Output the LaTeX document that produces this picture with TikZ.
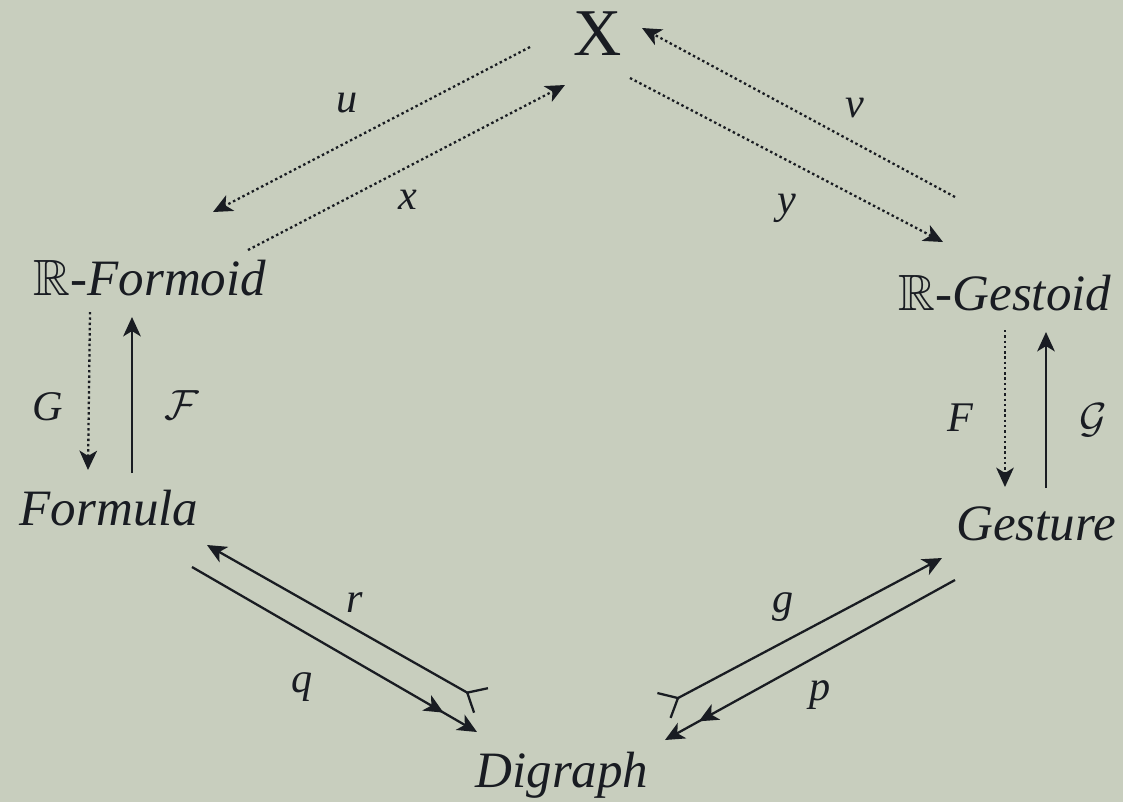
\documentclass[tikz,border=0pt]{standalone}
\usepackage{amssymb}
\usepackage{fontspec}
\setmainfont{Liberation Serif}
\usetikzlibrary{arrows.meta}
\definecolor{paper}{RGB}{200,206,190}
\definecolor{ink}{RGB}{25,28,34}

\begin{document}
\begin{tikzpicture}[
  x=0.01cm, y=-0.01cm,
  obj/.style={inner sep=0pt, anchor=base, text=ink, font=\fontsize{14.5}{17}\selectfont\itshape},
  lab/.style={inner sep=0pt, text=ink, font=\fontsize{12}{14}\selectfont\itshape},
  ar/.style={draw=ink, line width=0.65pt, -{Stealth[length=5.5pt,width=5pt,inset=1.5pt]}},
  dt/.style={ar, dash pattern=on 0.7pt off 0.8pt},
  epi/.style={ar, -{Stealth[length=5.5pt,width=5pt,inset=1.5pt,sep=5.5pt]Stealth[length=5.5pt,width=5pt,inset=1.5pt]}},
  mono/.style={ar, {Straight Barb[reversed,length=4.5pt,width=8pt]}-{Stealth[length=5.5pt,width=5pt,inset=1.5pt]}}
]
\fill[paper] (0,0) rectangle (1123,802);
\node[obj, font=\fontsize{19}{22}\selectfont] (X) at (598,55) {X};
\node[obj] (Rfor) at (150,295) {$\mathbb{R}$\textup{-}Formoid};
\node[obj] (Rges) at (1005,310) {$\mathbb{R}$\textup{-}Gestoid};
\node[obj] (form) at (109,525) {Formula};
\node[obj] (gest) at (1036,540) {Gesture};
\node[obj] (digr) at (562,787) {Digraph};
\draw[dt] ([shift={(-68,-8)}]X.base) -- ([shift={(63,-83)}]Rfor.base);
\draw[dt] ([shift={(98,-45)}]Rfor.base) -- ([shift={(-33,30)}]X.base);
\draw[dt] ([shift={(-50,-113)}]Rges.base) -- ([shift={(44,-27)}]X.base);
\draw[dt] ([shift={(32,23)}]X.base) -- ([shift={(-62,-68)}]Rges.base);
\draw[dt] ([shift={(-60,17)}]Rfor.base) -- ([shift={(-21,-55)}]form.base);
\draw[ar] ([shift={(23,-52)}]form.base) -- ([shift={(-18,22)}]Rfor.base);
\draw[dt] ([shift={(0,20)}]Rges.base) -- ([shift={(-31,-53)}]gest.base);
\draw[ar] ([shift={(10,-52)}]gest.base) -- ([shift={(41,22)}]Rges.base);
\draw[mono] ([shift={(-80,-86)}]digr.base) -- ([shift={(98,20)}]form.base);
\draw[epi] ([shift={(83,42)}]form.base) -- ([shift={(-85,-55)}]digr.base);
\draw[mono] ([shift={(101,-81)}]digr.base) -- ([shift={(-94,18)}]gest.base);
\draw[epi] ([shift={(-81,40)}]gest.base) -- ([shift={(103,-47)}]digr.base);
\node[lab] (lu) at (347,103) {u};
\node[lab] (lx) at (408,200) {x};
\node[lab] (lv) at (855,108) {v};
\node[lab] (ly) at (787,208) {y};
\node[lab] (lG) at (48,407) {G};
\node[lab] (lcF) at (182,405) {$\mathcal{F}$};
\node[lab] (lF) at (960,418) {F};
\node[lab] (lcG) at (1093,420) {$\mathcal{G}$};
\node[lab] (lr) at (355,603) {r};
\node[lab] (lq) at (302,687) {q};
\node[lab] (lg) at (783,607) {g};
\node[lab] (lp) at (820,695) {p};
\end{tikzpicture}
\end{document}
